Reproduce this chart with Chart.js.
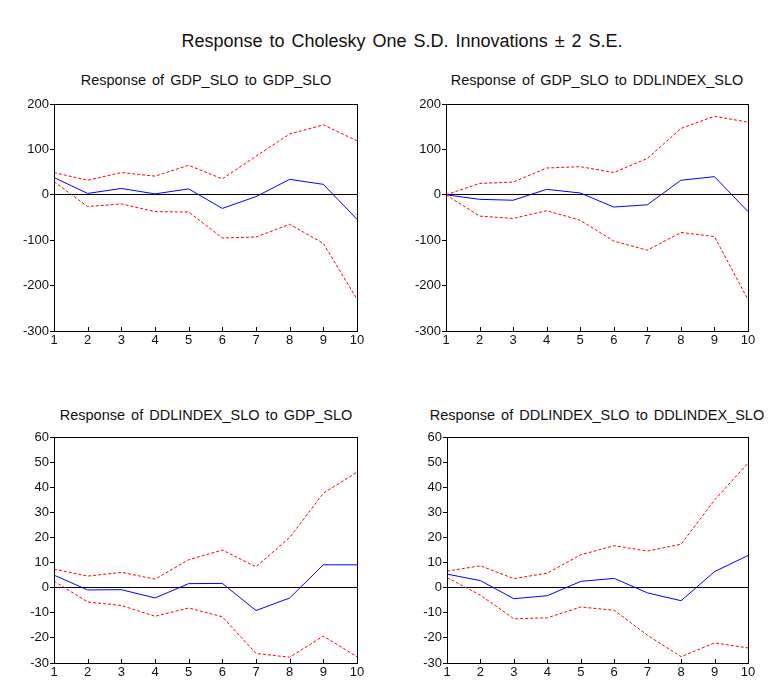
<!DOCTYPE html>
<html>
<head>
<meta charset="utf-8">
<script src="https://cdn.jsdelivr.net/npm/chart.js@4.4.1/dist/chart.umd.min.js"></script>
<style>
  html, body { margin: 0; padding: 0; background: #fff; }
  body { width: 771px; height: 682px; position: relative; overflow: hidden;
         font-family: "Liberation Sans", Arial, sans-serif; color: #111; }
  .t { position: absolute; white-space: nowrap; transform: translate(-50%, -50%); }
  #main { left: 402px; top: 41px; font-size: 18px; word-spacing: 2px; }
  .sub { font-size: 14.5px; word-spacing: 2px; }
  canvas { position: absolute; }
</style>
</head>
<body>
<div id="main" class="t">Response to Cholesky One S.D. Innovations ± 2 S.E.</div>
<div class="t sub" style="left:206px;top:80px">Response of GDP_SLO to GDP_SLO</div>
<div class="t sub" style="left:597px;top:80px">Response of GDP_SLO to DDLINDEX_SLO</div>
<div class="t sub" style="left:206px;top:415px">Response of DDLINDEX_SLO to GDP_SLO</div>
<div class="t sub" style="left:597px;top:415px">Response of DDLINDEX_SLO to DDLINDEX_SLO</div>

<canvas id="c1" width="385" height="270" style="left:0;top:90px"></canvas>
<canvas id="c2" width="381" height="270" style="left:390px;top:90px"></canvas>
<canvas id="c3" width="385" height="257" style="left:0;top:425px"></canvas>
<canvas id="c4" width="381" height="257" style="left:390px;top:425px"></canvas>

<script>
// Forecast horizon (periods)
const periods = ['1','2','3','4','5','6','7','8','9','10'];

// Response of GDP_SLO to GDP_SLO
const gdpGdp      = [38, 3, 14, 2, 13, -30, -4, 34, 23, -54];
const gdpGdpUp    = [49, 32, 49, 41, 65, 35, 85, 134, 154, 119];
const gdpGdpLo    = [29, -26, -20, -37, -38, -95, -93, -65, -107, -230];

// Response of GDP_SLO to DDLINDEX_SLO
const gdpIdx      = [0, -10, -12, 12, 4, -27, -22, 32, 40, -37];
const gdpIdxUp    = [0, 25, 28, 59, 62, 49, 80, 146, 173, 160];
const gdpIdxLo    = [0, -47, -52, -35, -56, -102, -122, -83, -92, -231];

// Response of DDLINDEX_SLO to GDP_SLO
const idxGdp      = [5, -0.9, -0.8, -4.1, 1.6, 1.7, -9.1, -4.1, 9.1, 9.1];
const idxGdpUp    = [7.4, 4.6, 6.1, 3.4, 11.1, 15, 8.3, 20, 37.6, 46];
const idxGdpLo    = [2.6, -5.7, -7.1, -11.4, -8.1, -11.6, -26.2, -27.7, -19.3, -27.5];

// Response of DDLINDEX_SLO to DDLINDEX_SLO
const idxIdx      = [5.4, 2.8, -4.4, -3.2, 2.5, 3.7, -2.1, -5.2, 6.4, 12.8];
const idxIdxUp    = [6.6, 8.7, 3.6, 5.8, 13.1, 16.7, 14.6, 17.3, 34.9, 49.6];
const idxIdxLo    = [4, -3, -12.4, -12, -7.7, -9, -19, -27.5, -22, -24];

// Y ranges
const gdpTicks = { min: -300, max: 200, step: 100 };
const idxTicks = { min: -30, max: 60, step: 10 };

// Frame around the plot area plus inward x tick marks
const framePlugin = {
  id: 'frame',
  afterDraw(chart) {
    const { ctx, chartArea: a, scales: { x } } = chart;
    ctx.save();
    ctx.strokeStyle = '#000';
    ctx.lineWidth = 1;
    ctx.beginPath();
    for (let i = 0; i < periods.length; i++) {
      const px = Math.round(x.getPixelForValue(i)) + 0.5;
      ctx.moveTo(px, a.bottom);
      ctx.lineTo(px, a.bottom - 4);
    }
    ctx.stroke();
    ctx.strokeRect(Math.round(a.left) + 0.5, Math.round(a.top) + 0.5,
                   Math.round(a.right - a.left), Math.round(a.bottom - a.top));
    ctx.restore();
  }
};

function makeChart(id, mid, up, lo, rng, pad) {
  const dash = { borderColor: '#ff0000', borderWidth: 1, borderDash: [3, 2],
                 pointRadius: 0, tension: 0, fill: false };
  new Chart(document.getElementById(id), {
    type: 'line',
    data: {
      labels: periods,
      datasets: [
        { data: up, ...dash },
        { data: lo, ...dash },
        { data: mid, borderColor: '#0000ff', borderWidth: 1, pointRadius: 0, tension: 0, fill: false }
      ]
    },
    plugins: [framePlugin],
    options: {
      responsive: false,
      animation: false,
      events: [],
      layout: { padding: { left: 0, right: pad.right, top: pad.top, bottom: 0 } },
      plugins: { legend: { display: false }, tooltip: { enabled: false }, title: { display: false } },
      scales: {
        x: {
          type: 'category',
          offset: false,
          grid: { display: false, drawTicks: false, tickLength: 0 },
          border: { display: false },
          ticks: { color: '#111', padding: 2, maxRotation: 0, autoSkip: false,
                   font: { family: 'Liberation Sans', size: 13 } },
          afterFit(s) { s.height = pad.xh; }
        },
        y: {
          min: rng.min, max: rng.max,
          grid: {
            drawOnChartArea: true, drawTicks: true, tickLength: 4,
            color: c => (c.tick && c.tick.value === 0 ? '#000' : 'rgba(0,0,0,0)'),
            tickColor: '#000', lineWidth: 1
          },
          border: { display: false },
          ticks: { stepSize: rng.step, color: '#111', padding: 1,
                   font: { family: 'Liberation Sans', size: 13 } },
          afterFit(s) { s.width = pad.yw; }
        }
      }
    }
  });
}

makeChart('c1', gdpGdp, gdpGdpUp, gdpGdpLo, gdpTicks, { yw: 54, right: 28, top: 14, xh: 29 });
makeChart('c2', gdpIdx, gdpIdxUp, gdpIdxLo, gdpTicks, { yw: 56, right: 23, top: 14, xh: 29 });
makeChart('c3', idxGdp, idxGdpUp, idxGdpLo, idxTicks, { yw: 54, right: 28, top: 12, xh: 19 });
makeChart('c4', idxIdx, idxIdxUp, idxIdxLo, idxTicks, { yw: 57, right: 23, top: 12, xh: 19 });
</script>
</body>
</html>
